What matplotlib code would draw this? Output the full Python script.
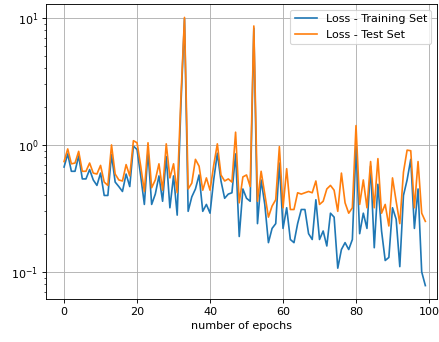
import matplotlib
matplotlib.use("Agg")
import matplotlib.pyplot as plt

# loss per epoch, read back from the training log
epochs = list(range(100))

train_loss = [
    0.67, 0.85, 0.62, 0.62, 0.82, 0.54, 0.54, 0.64, 0.53, 0.48,
    0.60, 0.40, 0.40, 0.84, 0.51, 0.47, 0.43, 0.59, 0.47, 0.98,
    0.92, 0.57, 0.34, 0.89, 0.34, 0.41, 0.57, 0.36, 0.81, 0.32,
    0.57, 0.28, 2.0, 9.8, 0.30, 0.39, 0.45, 0.58, 0.30, 0.34,
    0.29, 0.53, 0.86, 0.52, 0.38, 0.41, 0.42, 0.85, 0.19, 0.45,
    0.38, 0.36, 8.3, 0.24, 0.53, 0.34, 0.17, 0.22, 0.24, 0.72,
    0.22, 0.32, 0.18, 0.17, 0.24, 0.31, 0.31, 0.20, 0.18, 0.37,
    0.18, 0.21, 0.16, 0.29, 0.27, 0.107, 0.15, 0.17, 0.15, 0.18,
    0.98, 0.20, 0.29, 0.22, 0.68, 0.155, 0.49, 0.21, 0.123, 0.13,
    0.32, 0.26, 0.11, 0.40, 0.53, 0.77, 0.22, 0.45, 0.10, 0.078,
]

test_loss = [
    0.74, 0.93, 0.71, 0.72, 0.89, 0.62, 0.62, 0.72, 0.60, 0.59,
    0.69, 0.51, 0.48, 1.0, 0.59, 0.53, 0.52, 0.70, 0.57, 1.08,
    1.04, 0.68, 0.43, 1.04, 0.46, 0.53, 0.71, 0.44, 1.02, 0.55,
    0.71, 0.42, 2.3, 10.1, 0.45, 0.50, 0.77, 0.68, 0.44, 0.55,
    0.44, 0.69, 1.02, 0.58, 0.52, 0.54, 0.51, 1.26, 0.35, 0.56,
    0.58, 0.47, 8.65, 0.36, 0.62, 0.41, 0.27, 0.33, 0.37, 0.97,
    0.32, 0.65, 0.31, 0.31, 0.42, 0.41, 0.42, 0.43, 0.42, 0.52,
    0.34, 0.36, 0.45, 0.48, 0.44, 0.30, 0.60, 0.35, 0.29, 0.32,
    1.42, 0.34, 0.53, 0.32, 0.74, 0.32, 0.78, 0.29, 0.34, 0.23,
    0.55, 0.36, 0.24, 0.61, 0.91, 0.90, 0.32, 0.74, 0.29, 0.25,
]

# drawn at 80 dpi so text and lines come out at the smaller size
fig = plt.figure(figsize=(439 / 80, 342 / 80), dpi=80)
ax = fig.add_axes([0.1048, 0.1257, 0.8907, 0.8626])

ax.plot(epochs, train_loss, label="Loss - Training Set")
ax.plot(epochs, test_loss, label="Loss - Test Set")
ax.set_yscale("log")
ax.set_xlim(-4.95, 102.2)
ax.set_xlabel("number of epochs")
ax.grid(True)
ax.legend(loc="upper right")

fig.savefig("out.png", dpi=80)
